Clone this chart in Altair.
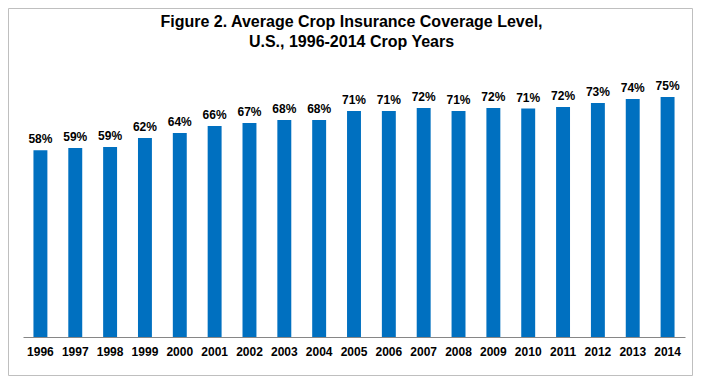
import altair as alt
import pandas as pd

years = ["1996", "1997", "1998", "1999", "2000", "2001", "2002", "2003", "2004", "2005",
         "2006", "2007", "2008", "2009", "2010", "2011", "2012", "2013", "2014"]
coverage = [58.35, 59.06, 59.38, 62.18, 63.74, 65.93, 66.86, 67.80, 67.80, 70.61,
            70.61, 71.54, 70.61, 71.54, 71.40, 71.86, 73.10, 74.35, 74.98]
title_lines = ["Figure 2. Average Crop Insurance Coverage Level,", "U.S., 1996-2014 Crop Years"]

df = pd.DataFrame({"year": years, "coverage": coverage})

W, H = 662, 256
PAD = {"left": 15, "top": 73, "right": 8, "bottom": 39}
FONT = "Liberation Sans"

x = alt.X("year:N", sort=years, title=None,
          scale=alt.Scale(paddingInner=0.6, paddingOuter=0.3),
          axis=alt.Axis(labelAngle=0, labelFont=FONT, labelFontSize=12, labelFontWeight="bold",
                        labelColor="#000000", ticks=False, tickSize=0, labelPadding=9,
                        domainColor="#868686", domainWidth=1, grid=False))
y = alt.Y("coverage:Q", scale=alt.Scale(domain=[0, 80], nice=False, zero=True), axis=None)

base = alt.Chart(df).transform_calculate(label="format(datum.coverage/100, '.0%')")

bars = base.mark_bar(color="#0070C0").encode(x=x, y=y)
labels = base.mark_text(baseline="alphabetic", dy=-7, font=FONT, fontSize=12,
                        fontWeight="bold", color="#000000").encode(x=x, y=y, text="label:N")

border = alt.Chart(pd.DataFrame({"a": [0]})).mark_rect(
    fill=None, stroke="#BFBFBF", strokeWidth=1, clip=False
).encode(
    x=alt.value(-PAD["left"] + 0.5), x2=alt.value(W + PAD["right"] - 0.5),
    y=alt.value(-PAD["top"] + 0.5), y2=alt.value(H + PAD["bottom"] - 0.5),
)

title_df = pd.DataFrame({"line": title_lines, "i": [0, 1]})
title = alt.Chart(title_df).transform_calculate(
    ty="-54 + 20 * datum.i"
).mark_text(
    font=FONT, fontSize=16, fontWeight="bold", color="#000000",
    align="center", baseline="alphabetic", clip=False
).encode(
    x=alt.value(328.5),
    y=alt.Y("ty:Q", scale=None),
    text="line:N",
)

chart = alt.layer(border, bars, labels, title).properties(
    width=W, height=H,
    autosize=alt.AutoSizeParams(type="none"),
    padding=PAD,
    background="#FFFFFF",
).configure_view(strokeWidth=0, stroke="transparent")

chart.save("out.html", embed_options={"renderer": "svg", "actions": False})
